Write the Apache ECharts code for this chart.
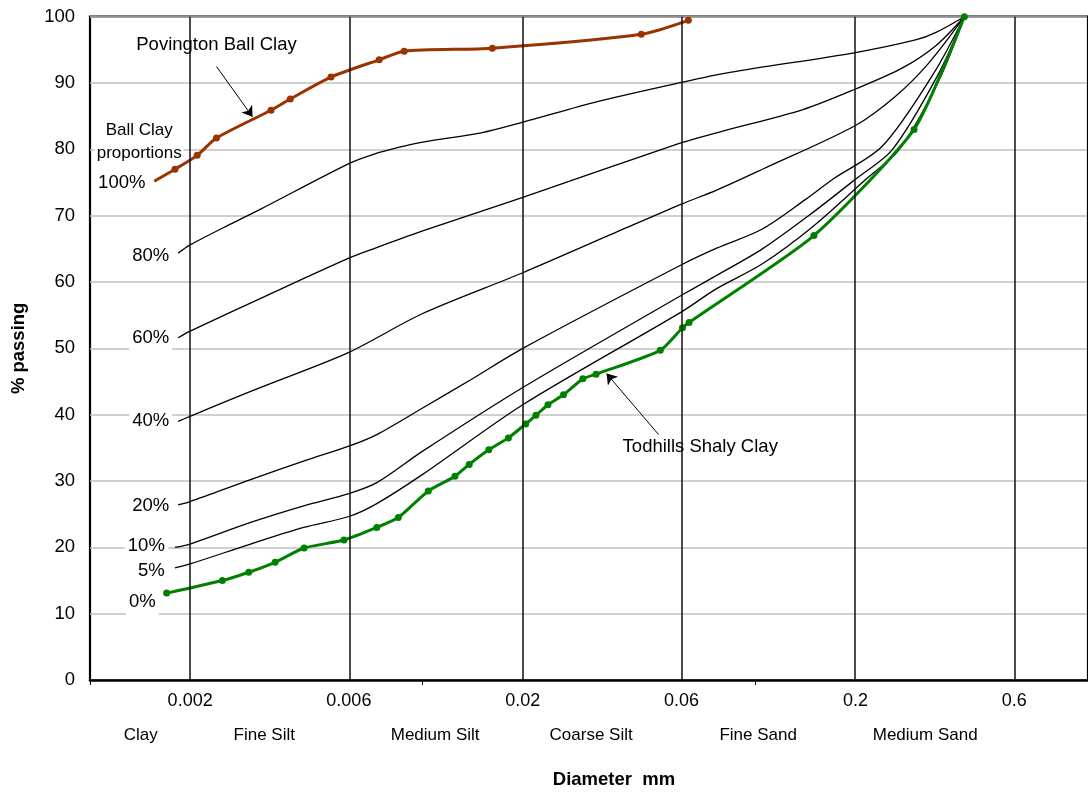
<!DOCTYPE html>
<html><head><meta charset="utf-8">
<script src="https://cdn.jsdelivr.net/npm/echarts@6/dist/echarts.min.js"></script>
<style>html,body{margin:0;padding:0;background:#fff}#c{width:1088px;height:794px}</style>
</head><body><div id="c"></div>
<script>
// ---------- data (diameter in mm, % passing) ----------
const tickValues = [0.002, 0.006, 0.02, 0.06, 0.2, 0.6];
const tickLabels = ['0.002', '0.006', '0.02', '0.06', '0.2', '0.6'];
const decadeTicks = [0.001, 0.01, 0.1, 1];
const bandNames = ['Clay', 'Fine Silt', 'Medium Silt', 'Coarse Silt', 'Fine Sand', 'Medium Sand'];
const bandCentres = [0.00142, 0.00334, 0.0109, 0.0321, 0.102, 0.324];

const povingtonD = [0.00156, 0.0018, 0.0021, 0.0024, 0.0035, 0.004, 0.0053, 0.0074, 0.0088, 0.0162, 0.0454, 0.0629];
const povingtonP = [75.2, 77.0, 79.1, 81.7, 85.9, 87.6, 90.9, 93.5, 94.8, 95.25, 97.35, 99.45];

const todhillsD = [0.0017, 0.0025, 0.003, 0.0036, 0.0044, 0.0058, 0.00728, 0.00845, 0.0104, 0.0125, 0.0138, 0.0158, 0.0181, 0.0204, 0.0219, 0.0238, 0.0265, 0.0303, 0.0332, 0.0518, 0.0604, 0.0632, 0.15, 0.3, 0.425];
const todhillsP = [13.1, 15.0, 16.25, 17.75, 19.9, 21.1, 23.0, 24.5, 28.5, 30.7, 32.5, 34.7, 36.5, 38.6, 39.9, 41.5, 43.0, 45.4, 46.1, 49.7, 53.1, 53.9, 67.0, 83.0, 100];

const mix80D = [0.00184, 0.002, 0.00271, 0.00326, 0.006, 0.00711, 0.00845, 0.01, 0.015, 0.02, 0.0335, 0.06, 0.0838, 0.2, 0.303, 0.348, 0.425];
const mix80P = [64.35, 65.6, 69.0, 71.0, 77.85, 79.25, 80.3, 81.1, 82.5, 84.1, 87.2, 90.1, 91.6, 94.6, 96.5, 97.6, 100];

const mix60D = [0.00184, 0.002, 0.00341, 0.006, 0.00711, 0.00845, 0.01, 0.02, 0.06, 0.0765, 0.139, 0.2, 0.276, 0.348, 0.425];
const mix60P = [51.6, 52.6, 58.0, 63.6, 65.0, 66.4, 67.7, 72.75, 81.0, 82.5, 86.0, 89.1, 92.25, 95.6, 100];

const mix40D = [0.00184, 0.002, 0.00271, 0.00341, 0.006, 0.01, 0.02, 0.0402, 0.06, 0.0765, 0.105, 0.2, 0.264, 0.332, 0.425];
const mix40P = [39.0, 39.75, 42.5, 44.5, 49.4, 55.25, 61.4, 68.0, 71.75, 73.85, 77.0, 83.6, 88.0, 93.0, 100];

const mix20D = [0.00184, 0.002, 0.00304, 0.00445, 0.006, 0.00728, 0.01, 0.0142, 0.02, 0.06, 0.0765, 0.105, 0.142, 0.171, 0.241, 0.344, 0.425];
const mix20P = [26.4, 26.9, 30.2, 33.1, 35.25, 37.0, 41.0, 45.5, 50.0, 62.6, 65.1, 68.0, 72.5, 75.5, 80.5, 91.5, 100];

const mix10D = [0.0018, 0.002, 0.00304, 0.00439, 0.006, 0.00728, 0.01, 0.02, 0.06, 0.0765, 0.105, 0.149, 0.2, 0.2585, 0.352, 0.425];
const mix10P = [20.0, 20.5, 23.75, 26.25, 28.1, 29.75, 34.5, 44.1, 58.0, 61.0, 65.0, 70.5, 75.5, 80.0, 91.0, 100];

const mix5D = [0.0018, 0.002, 0.00304, 0.00439, 0.006, 0.00728, 0.01, 0.02, 0.06, 0.0765, 0.105, 0.15, 0.215, 0.271, 0.357, 0.425];
const mix5P = [16.9, 17.5, 20.5, 23.0, 24.65, 26.6, 31.0, 41.5, 55.5, 59.0, 62.75, 68.5, 75.5, 80.0, 90.5, 100];

const annoText = ['Povington Ball Clay', 'Todhills Shaly Clay', 'Ball Clay\nproportions', '100%', '80%', '60%', '40%', '20%', '10%', '5%', '0%'];
const annoD = [0.0024, 0.0683, 0.001406, 0.001246, 0.001522, 0.001522, 0.001522, 0.001522, 0.001477, 0.001528, 0.001437];
const annoP = [95.8, 35.1, 81.1, 75.0, 64.0, 51.5, 39.0, 26.2, 20.25, 16.5, 11.75];

const arrowFromD = [0.0024, 0.0512];
const arrowFromP = [92.5, 37.0];
const arrowToD = [0.00308, 0.0357];
const arrowToP = [84.9, 46.2];

// ---------- chart ----------
const L = Math.log10;
const FONT = "'Liberation Sans', Arial, Helvetica, sans-serif";
const pts = (D, P) => D.map((d, i) => [L(d), P[i]]);
const near = (arr, v) => arr.findIndex(a => Math.abs(L(a) - v) < 1e-6);

const chart = echarts.init(document.getElementById('c'), null, {renderer: 'canvas'});

function mixSeries(D, P) {
  return {
    type: 'line', data: pts(D, P), symbol: 'none', showSymbol: false,
    smooth: 0.3, z: 3, silent: true,
    lineStyle: {color: '#000', width: 1.3}
  };
}

const povData = pts(povingtonD, povingtonP).map((p, i) => i === 0 ? {value: p, symbol: 'none'} : {value: p});

const annoData = annoText.map((t, i) => {
  const item = {name: t, value: [L(annoD[i]), annoP[i]]};
  if (t.indexOf('\n') >= 0) item.label = {fontSize: 17, lineHeight: 23, padding: [1, 2, 1, 2]};
  return item;
});

const option = {
  animation: false,
  textStyle: {fontFamily: FONT, color: '#000'},
  grid: {left: 90, top: 16.7, bottom: 110.7, right: -5.5, show: true,
         borderColor: '#000', borderWidth: 2.2, backgroundColor: '#fff'},
  xAxis: [{
    type: 'value', min: -3, max: 0,
    axisLine: {show: true, onZero: false, lineStyle: {color: '#000', width: 2.5}},
    axisTick: {show: true, inside: false, length: 5, customValues: decadeTicks.map(L),
               lineStyle: {color: '#000', width: 1}},
    axisLabel: {show: true, customValues: tickValues.map(L), margin: 12, fontSize: 18,
                fontFamily: FONT, color: '#000',
                formatter: v => { const i = near(tickValues, v); return i >= 0 ? tickLabels[i] : ''; }},
    splitLine: {show: false},
    name: 'Diameter  mm', nameLocation: 'middle', nameGap: 90,
    nameTextStyle: {fontWeight: 'bold', fontSize: 18.5, fontFamily: FONT, color: '#000', padding: [0, 0, 0, 50]}
  }, {
    type: 'value', min: -3, max: 0, position: 'bottom',
    axisLine: {show: false}, axisTick: {show: false}, splitLine: {show: false},
    axisLabel: {show: true, customValues: bandCentres.map(L), margin: 47, fontSize: 17,
                fontFamily: FONT, color: '#000',
                formatter: v => { const i = near(bandCentres, v); return i >= 0 ? bandNames[i] : ''; }}
  }],
  yAxis: {
    type: 'value', min: 0, max: 100, interval: 10,
    axisLine: {show: true, lineStyle: {color: '#000', width: 3}},
    axisTick: {show: false},
    axisLabel: {fontSize: 18.5, margin: 15, color: '#000', fontFamily: FONT},
    splitLine: {show: true, lineStyle: {color: '#c0c0c0', width: 1.5}},
    name: '% passing', nameLocation: 'middle', nameGap: 62,
    nameTextStyle: {fontWeight: 'bold', fontSize: 18.5, fontFamily: FONT, color: '#000'}
  },
  series: [
    { // vertical size-class boundaries
      type: 'line', data: [], z: 1, silent: true,
      markLine: {silent: true, symbol: ['none', 'none'], label: {show: false},
                 lineStyle: {color: '#111', width: 1.5, type: 'solid'},
                 emphasis: {disabled: true},
                 data: tickValues.map(v => ({xAxis: L(v)}))}
    },
    { // annotation texts and arrows (under the curves, over the grid)
      type: 'scatter', z: 2, silent: true, symbolSize: 0,
      itemStyle: {opacity: 1},
      data: annoData,
      label: {show: true, position: 'inside', formatter: '{b}', fontSize: 18.5, fontFamily: FONT,
              color: '#000', opacity: 1, backgroundColor: '#fff', padding: [5, 3, 5, 3], lineHeight: 21},
      markLine: {silent: true, symbol: ['none', 'arrow'], symbolSize: 10, label: {show: false},
                 emphasis: {disabled: true},
                 lineStyle: {color: '#000', width: 1, type: 'solid', opacity: 1},
                 data: arrowFromD.map((d, i) => [{coord: [L(d), arrowFromP[i]]},
                                                 {coord: [L(arrowToD[i]), arrowToP[i]]}])}
    },
    mixSeries(mix80D, mix80P),
    mixSeries(mix60D, mix60P),
    mixSeries(mix40D, mix40P),
    mixSeries(mix20D, mix20P),
    mixSeries(mix10D, mix10P),
    mixSeries(mix5D, mix5P),
    {
      name: 'Povington Ball Clay', type: 'line', data: povData, z: 4, silent: true,
      symbol: 'circle', symbolSize: 7, showSymbol: true, smooth: 0.25,
      itemStyle: {color: '#993300'}, lineStyle: {color: '#993300', width: 3}
    },
    {
      name: 'Todhills Shaly Clay', type: 'line', data: pts(todhillsD, todhillsP), z: 4, silent: true,
      symbol: 'circle', symbolSize: 7, showSymbol: true, smooth: 0.2,
      itemStyle: {color: '#008000'}, lineStyle: {color: '#008000', width: 3}
    }
  ]
};
chart.setOption(option);
</script>
</body></html>
